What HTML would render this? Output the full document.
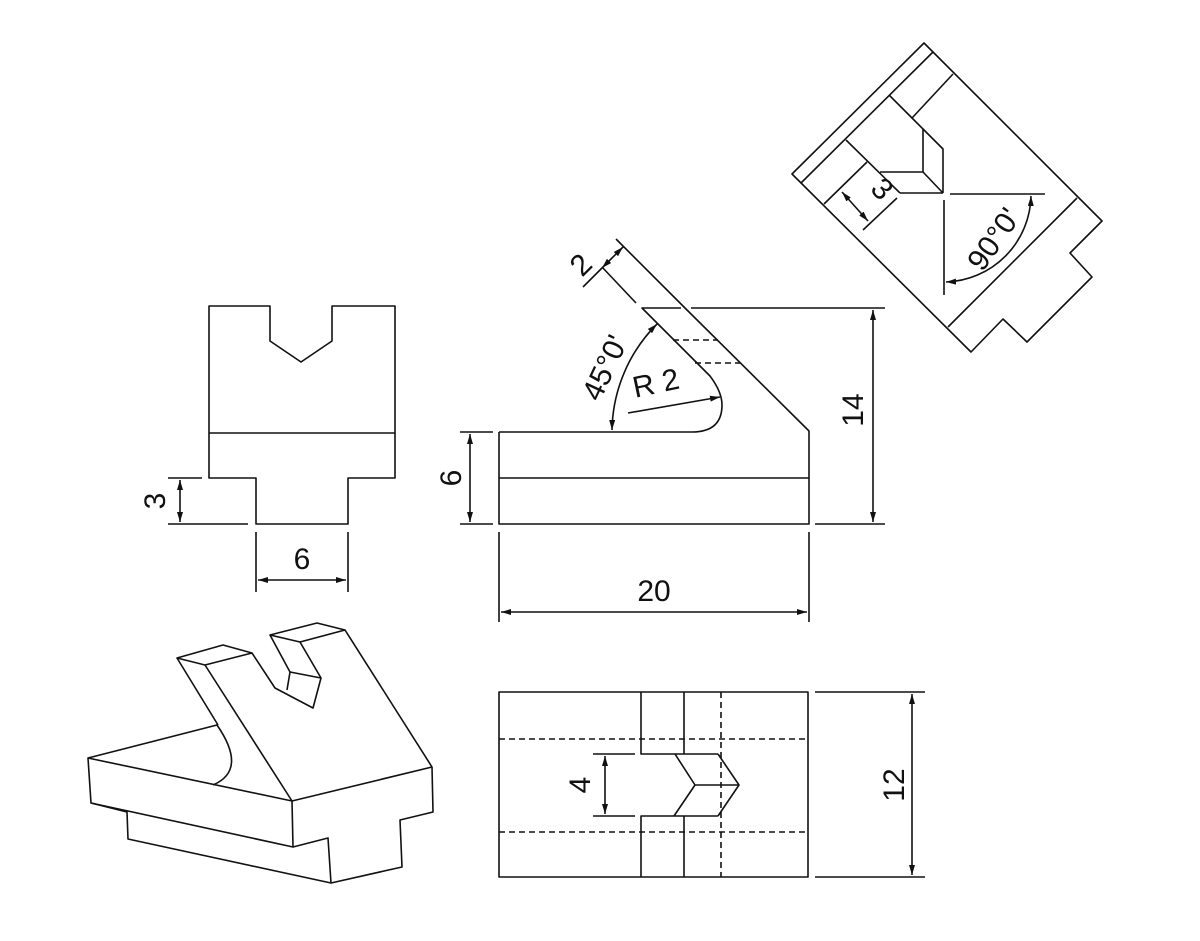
<!DOCTYPE html>
<html><head><meta charset="utf-8"><style>
html,body{margin:0;padding:0;background:#fff;}
svg{display:block;}
text{font-family:"Liberation Sans",sans-serif;font-size:30px;fill:#111;}
</style></head><body>
<svg width="1200" height="941" viewBox="0 0 1200 941" xmlns="http://www.w3.org/2000/svg">
<defs>
<marker id="a" viewBox="0 0 10 6" refX="10" refY="3" markerWidth="10" markerHeight="6" markerUnits="userSpaceOnUse" orient="auto-start-reverse"><path d="M0,0 L10,3 L0,6 z" fill="#111"/></marker>
</defs>
<g fill="none" stroke="#111" stroke-width="1.6" stroke-linejoin="round">
<!-- left view -->
<path d="M209,306 L270,306 L270,341 L301,362 L332,341 L332,306 L395,306 L395,478 L348,478 L348,524 L256,524 L256,478 L209,478 Z"/>
<path d="M209,433 L395,433"/>
<path d="M168,478 L202,478 M168,524 L248,524 M256,532 L256,592 M348,532 L348,592"/>
<path d="M180,480 L180,522" marker-start="url(#a)" marker-end="url(#a)"/>
<path d="M258,580 L346,580" marker-start="url(#a)" marker-end="url(#a)"/>

<!-- front view -->
<path d="M499,432 L692,432 Q722,432 722,405 Q722,392 710,376 L642,308 L681,308 M691,308 L885,308"/>
<path d="M499,432 L499,524 L809,524 L809,431 L685,308 L616,239"/>
<path d="M499,478 L809,478"/>
<path d="M636,303 L602,267"/>
<path d="M673,340 L718,340 M695,363 L740,363" stroke-dasharray="6,4"/>
<path d="M815,524 L885,524 M460,432 L493,432 M460,524 L493,524 M499,532 L499,622 M809,532 L809,622"/>
<path d="M873,310 L873,522" marker-start="url(#a)" marker-end="url(#a)"/>
<path d="M470,434 L470,522" marker-start="url(#a)" marker-end="url(#a)"/>
<path d="M501,612 L807,612" marker-start="url(#a)" marker-end="url(#a)"/>
<path d="M583,287 L602,268" /><path d="M602,268 L623,247" marker-start="url(#a)" marker-end="url(#a)"/>
<path d="M612,430 A154,154 0 0 1 657,324" marker-start="url(#a)" marker-end="url(#a)"/>
<path d="M628,413 L720,397" marker-end="url(#a)"/>

<!-- top view -->
<path d="M499,692 L808,692 L808,877 L499,877 Z"/>
<path d="M499,739 L808,739 M499,832 L808,832 M721,692 L721,877" stroke-dasharray="6,4"/>
<path d="M641,692 L641,754 L718,754 M684,692 L684,754 M641,877 L641,816 L718,816 M684,877 L684,816"/>
<path d="M675,754 L695,785 L674,816 M718,754 L739,785 L718,816 M695,785 L739,785"/>
<path d="M593,754 L635,754 M593,816 L635,816 M815,692 L925,692 M815,877 L925,877"/>
<path d="M605,756 L605,814" marker-start="url(#a)" marker-end="url(#a)"/>
<path d="M912,694 L912,875" marker-start="url(#a)" marker-end="url(#a)"/>

<!-- auxiliary view -->
<path d="M924,43 L1102,221 L1070,253 L1092,277 L1027,342 L1003,319 L971,352 L792,174 Z"/>
<path d="M801,183 L933,52"/>
<path d="M889,95 L912,118 L953,74"/>
<path d="M912,118 L923,129 L923,172 M923,129 L943,149 L943,193 M923,172 L943,193 M880,172 L923,172 M900,193 L943,193"/>
<path d="M846,140 L900,193 M867,162 L824,204"/>
<path d="M1077,198 L948,327"/>
<path d="M950,194 L1045,194 M944,200 L944,295"/>
<path d="M863,230 L897,198"/>
<path d="M842,192 L868,221" marker-start="url(#a)" marker-end="url(#a)"/>
<path d="M1031,196 A88,88 0 0 1 946,282" marker-start="url(#a)" marker-end="url(#a)"/>

<!-- isometric -->
<path d="M88,758 L91,803 L293,847 L292,801 L88,758 Z"/>
<path d="M88,758 L217,725 Q248,770 213,785"/>
<path d="M91,803 L127,812 L128,839 L331,883 L402,867 L400,820 L433,812 L432,767 L345,630 L317,623 L270,635 L290,672 L287,690 M300,642 L321,678 L313,708 L275,688 L252,653 L223,645 L177,658 L218,725"/>
<path d="M292,801 L205,665 M292,801 L432,767 M293,847 L328,838 L331,883"/>
<path d="M177,658 L205,665 L252,653 M270,635 L300,642 L345,630 M290,672 L321,678"/>
</g>
<g>
<text x="0" y="0" transform="translate(165,501) rotate(-90)" text-anchor="middle">3</text>
<text x="302" y="569" text-anchor="middle">6</text>
<text transform="translate(461,478) rotate(-90)" text-anchor="middle">6</text>
<text transform="translate(863,410) rotate(-90)" text-anchor="middle">14</text>
<text x="654" y="601" text-anchor="middle">20</text>
<text transform="translate(588,272) rotate(-45)" text-anchor="middle">2</text>
<text transform="translate(614,372) rotate(-65)" text-anchor="middle">45°0'</text>
<text transform="translate(658,393) rotate(-12)" text-anchor="middle">R 2</text>
<text transform="translate(590,785) rotate(-90)" text-anchor="middle">4</text>
<text transform="translate(904,785) rotate(-90)" text-anchor="middle">12</text>
<text transform="translate(875,196) rotate(45)" text-anchor="middle">3</text>
<text transform="translate(1002,245) rotate(-55)" text-anchor="middle">90°0'</text>
</g>
</svg>
</body></html>
